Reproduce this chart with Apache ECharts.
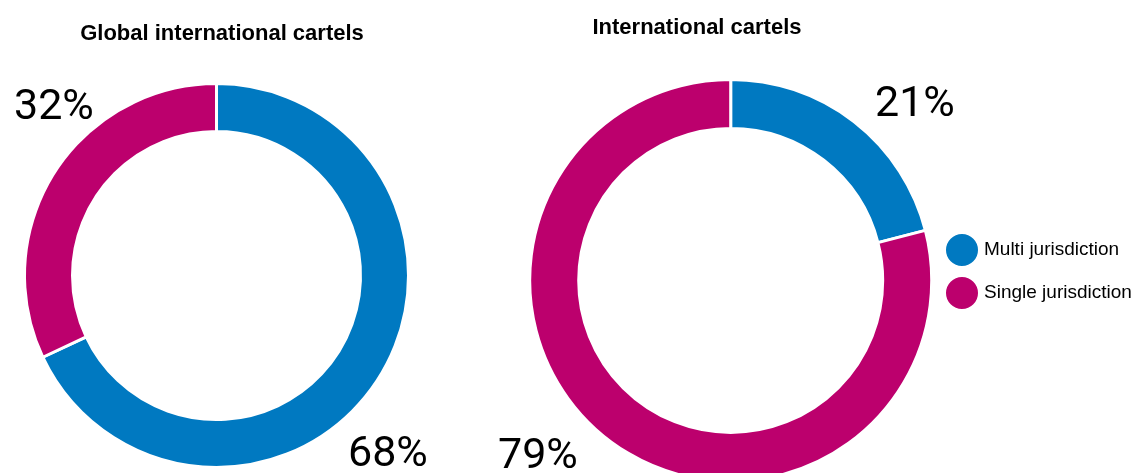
<!DOCTYPE html>
<html>
<head>
<meta charset="utf-8">
<script src="https://cdn.jsdelivr.net/npm/echarts@6/dist/echarts.min.js"></script>
<style>
html,body{margin:0;padding:0;background:#fff;}
#c{width:1135px;height:473px;}
</style>
</head>
<body>
<div id="c"></div>
<script>
const categories = ['Multi jurisdiction', 'Single jurisdiction'];
const chartTitles = ['Global international cartels', 'International cartels'];
const globalValues = [68, 32];
const internationalValues = [21, 79];
const colors = ['#0079C1', '#BC006D'];

const pctFont = "Roboto,'Liberation Sans',sans-serif";
const txtFont = "'Liberation Sans',Arial,sans-serif";
const labelPos = [
  [[348, 455], [14, 108]],
  [[875, 105], [498, 457]]
];

const chart = echarts.init(document.getElementById('c'));
function mk(values) {
  return categories.map((n, i) => ({ name: n, value: values[i] }));
}
function series(idx, center, radius, values) {
  return {
    type: 'pie',
    startAngle: 90,
    clockwise: true,
    avoidLabelOverlap: false,
    silent: true,
    center: center,
    radius: radius,
    itemStyle: { borderColor: '#fff', borderWidth: 3 },
    label: {
      show: true, position: 'outside', formatter: '{c}%',
      fontFamily: pctFont, fontSize: 43, color: '#000'
    },
    labelLine: { show: false },
    emphasis: { disabled: true },
    labelLayout: function (p) {
      const pos = labelPos[idx][p.dataIndex];
      return { x: pos[0], y: pos[1], align: 'left', verticalAlign: 'middle' };
    },
    data: mk(values)
  };
}
chart.setOption({
  animation: false,
  color: colors,
  title: [
    { text: chartTitles[0], left: 222, top: 23, textAlign: 'center', padding: 0,
      textStyle: { fontFamily: txtFont, fontWeight: 'bold', fontSize: 22, color: '#000' } },
    { text: chartTitles[1], left: 697, top: 17, textAlign: 'center', padding: 0,
      textStyle: { fontFamily: txtFont, fontWeight: 'bold', fontSize: 22, color: '#000' } }
  ],
  legend: {
    orient: 'vertical', left: 944, top: 232, padding: 0,
    itemWidth: 34, itemHeight: 34, itemGap: 7, icon: 'circle',
    data: categories,
    textStyle: { fontFamily: txtFont, fontSize: 19, color: '#000' }
  },
  series: [
    series(0, [216.5, 275.5], [144, 192], globalValues),
    series(1, [730.7, 280.4], [152, 201], internationalValues)
  ]
});
</script>
</body>
</html>
